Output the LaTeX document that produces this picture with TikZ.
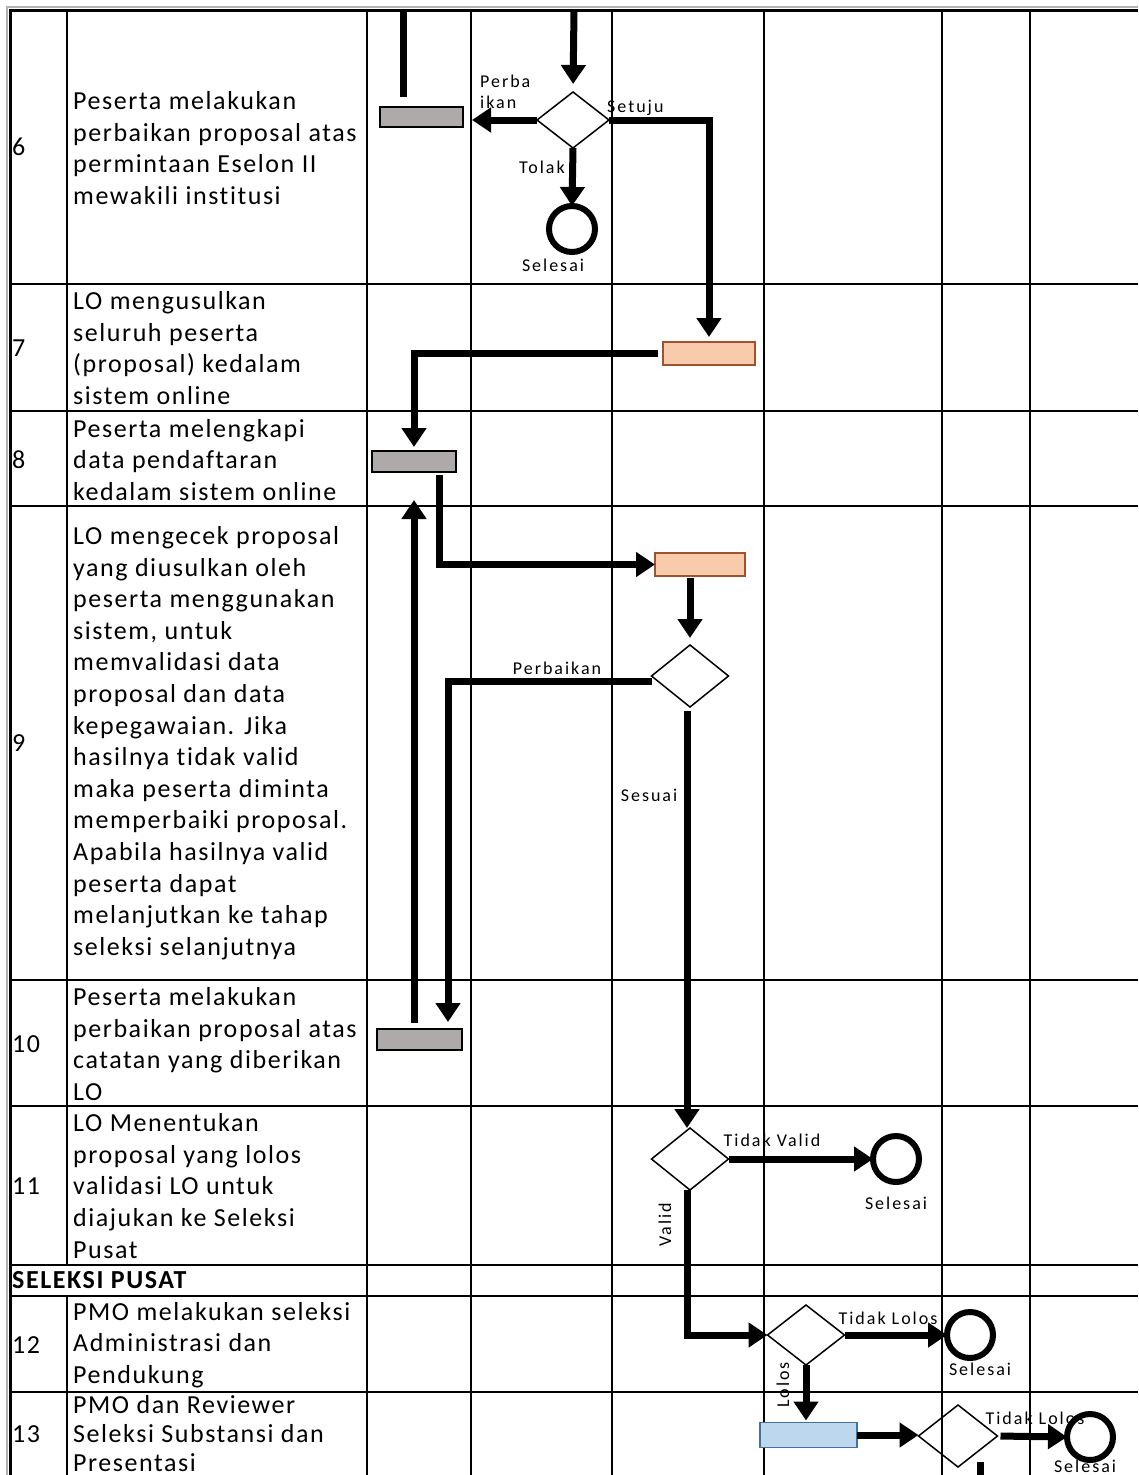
\documentclass[tikz,border=0pt]{standalone}
\usepackage{fontspec}
\setmainfont{Carlito}[LetterSpace=6, Ligatures=NoCommon]
\newfontfamily\lblfont{Carlito}[LetterSpace=11, Ligatures=NoCommon]
\usetikzlibrary{arrows.meta}
\usetikzlibrary{shapes.geometric}
\definecolor{boxgrey}{HTML}{AEAAAA}
\definecolor{peach}{HTML}{F8CBAD}
\definecolor{peachline}{HTML}{A0522D}
\definecolor{paleblue}{HTML}{BDD7EE}
\definecolor{blueline}{HTML}{41719C}
\tikzset{
flow/.style={line width=7pt, -{Triangle[width=24pt,length=19pt]}},
flowline/.style={line width=7pt},
task/.style={draw, line width=1.5pt, inner sep=0pt, outer sep=0pt},
decision/.style={diamond, draw, line width=1.5pt, inner sep=0pt, outer sep=0pt},
stopnode/.style={circle, draw, line width=6pt, minimum size=46pt, inner sep=0pt, outer sep=0pt},
lbl/.style={font=\lblfont\fontsize{18}{21}\selectfont, inner sep=0pt},
desc/.style={anchor=west, align=left, inner sep=0pt, font=\fontsize{26}{31.6}\selectfont},
gridline/.style={line width=2pt}}

\begin{document}
\begin{tikzpicture}[x=1pt,y=-1pt]
    \useasboundingbox (0,0) rectangle (1138,1475);

                \draw[gray!60, line width=2pt] (7,1480) -- (7,7) -- (1138,7);
                \draw[line width=3pt] (10,1480) -- (10,10) -- (1138,10);
                \foreach \y in {284,411,506,980,1106,1265,1296,1392}
                    \draw[gridline] (10,\y) -- (1138,\y);
                \foreach \x in {367,471,612,764,942,1030}
                    \draw[gridline] (\x,10) -- (\x,1480);
                \draw[gridline] (67,10) -- (67,1265);
                \draw[gridline] (67,1296) -- (67,1480);

                \node[desc] (N6) at (12,147) {6};
                \node[desc] (T6) at (73,148) {Peserta melakukan\\perbaikan proposal atas\\permintaan Eselon II\\mewakili institusi};
                \node[desc] (N7) at (12,348) {7};
                \node[desc] (T7) at (73,348) {LO mengusulkan\\seluruh peserta\\(proposal) kedalam\\sistem online};
                \node[desc] (N8) at (12,460) {8};
                \node[desc] (T8) at (73,460) {Peserta melengkapi\\data pendaftaran\\kedalam sistem online};
                \node[desc] (N9) at (12,743) {9};
                \node[desc] (T9) at (73,743) {LO mengecek proposal\\yang diusulkan oleh\\peserta menggunakan\\sistem, untuk\\memvalidasi data\\proposal dan data\\kepegawaian. Jika\\hasilnya tidak valid\\maka peserta diminta\\memperbaiki proposal.\\Apabila hasilnya valid\\peserta dapat\\melanjutkan ke tahap\\seleksi selanjutnya};
                \node[desc] (N10) at (12,1044) {10};
                \node[desc] (T10) at (73,1044) {Peserta melakukan\\perbaikan proposal atas\\catatan yang diberikan\\LO};
                \node[desc] (N11) at (12,1186) {11};
                \node[desc] (T11) at (73,1186) {LO Menentukan\\proposal yang lolos\\validasi LO untuk\\diajukan ke Seleksi\\Pusat};
                \node[desc, font=\fontsize{26}{31.6}\selectfont\bfseries] (SP) at (12,1280) {SELEKSI PUSAT};
                \node[desc] (N12) at (12,1345) {12};
                \node[desc] (T12) at (73,1345) {PMO melakukan seleksi\\Administrasi dan\\Pendukung};
                \node[desc] (N13) at (12,1434) {13};
                \node[desc, font=\fontsize{26}{29}\selectfont] (T13) at (73,1433.5) {PMO dan Reviewer\\Seleksi Substansi dan\\Presentasi};

                \node[task, fill=boxgrey, minimum width=83pt, minimum height=20pt] (G1) at (421.5,117) {};
                \node[decision, minimum width=72pt, minimum height=56pt] (D1) at (573,120) {};
                \node[stopnode] (C1) at (572,229) {};
                \node[task, fill=peach, draw=peachline, minimum width=92pt, minimum height=23pt] (O1) at (709,353.5) {};
                \node[task, fill=boxgrey, minimum width=84pt, minimum height=21pt] (G8) at (414,461.5) {};
                \node[task, fill=peach, draw=peachline, minimum width=90pt, minimum height=23pt] (O2) at (700,564.5) {};
                \node[decision, minimum width=77pt, minimum height=62pt] (D2) at (690,676) {};
                \node[task, fill=boxgrey, minimum width=85pt, minimum height=21pt] (G10) at (419.5,1039.5) {};
                \node[decision, minimum width=77pt, minimum height=62pt] (D3) at (690,1159) {};
                \node[stopnode] (C3) at (896,1159) {};
                \node[decision, minimum width=77pt, minimum height=60pt] (D4) at (806,1335) {};
                \node[stopnode] (C4) at (970,1335) {};
                \node[task, fill=paleblue, draw=blueline, minimum width=97pt, minimum height=25pt] (B13) at (808.5,1435) {};
                \node[decision, minimum width=79pt, minimum height=62pt] (D5) at (958,1436) {};
                \node[stopnode] (C5) at (1090,1437) {};

                \coordinate (in1) at (403,10);
                \coordinate (in1e) at (403,97);
                \coordinate (in2) at (574,10);
                \coordinate (out5) at (980,1480);

                \draw[flowline] (in1) -- (in1e);
                \draw[flow, shorten >=8pt] (in2) -- (D1.north);
                \draw[flow, shorten >=9pt] (D1.west) -- (G1.east |- D1.west);
                \draw[flow, shorten >=5pt] (D1.east) -| (O1.north);
                \draw[flow] (D1.south) -- (C1.north);
                \draw[flow, shorten <=5pt, shorten >=4pt] (O1.west) -| (G8.north);
                \draw[flow, shorten <=3pt] ([xshift=25pt]G8.south) |- (O2.west);
                \draw[flow, shorten <=2pt, shorten >=7pt] (O2.south -| D2.north) -- (D2.north);
                \draw[flow, shorten >=7pt] ([yshift=-5pt]D2.west) -| ([xshift=28.5pt]G10.north);
                \draw[flow, shorten <=6pt, shorten >=28pt] ([xshift=-5.5pt]G10.north) -- (G8.south);
                \draw[flow, shorten <=4pt] ([xshift=-3pt]D2.south) -- ([xshift=-3pt]D3.north);
                \draw[flow] (D3.east) -- (C3.west);
                \draw[flow] ([xshift=-3pt]D3.south) |- (D4.west);
                \draw[flow] (D4.east) -- (C4.west);
                \draw[flow, shorten >=2pt] (D4.south) -- (B13.north -| D4.south);
                \draw[flow] (B13.east) -- (D5.west |- B13.east);
                \draw[flow, shorten <=3pt] (D5.east) -- (C5.west);
                \draw[flowline] ([xshift=22pt,yshift=5pt]D5.south) -- (out5);

                \node[lbl, anchor=west, align=left] (L1) at (480,92) {Perba\\ikan};
                \node[lbl, anchor=west] (L2) at (607,108) {Setuju};
                \node[lbl] (L3) at (542,167) {Tolak};
                \node[lbl] (S1) at (553,265) {Selesai};
                \node[lbl] (L4) at (557,668) {Perbaikan};
                \node[lbl] (L5) at (649,795) {Sesuai};
                \node[lbl] (L6) at (772,1140) {Tidak Valid};
                \node[lbl] (S3) at (896,1203) {Selesai};
                \node[lbl, rotate=90] (L7) at (665,1225) {Valid};
                \node[lbl] (L8) at (888,1318) {Tidak Lolos};
                \node[lbl] (S4) at (980,1369) {Selesai};
                \node[lbl, rotate=90] (L9) at (783,1385) {Lolos};
                \node[lbl] (L10) at (1035,1418) {Tidak Lolos};
                \node[lbl] (S5) at (1085,1466) {Selesai};

            \end{tikzpicture}
\end{document}
